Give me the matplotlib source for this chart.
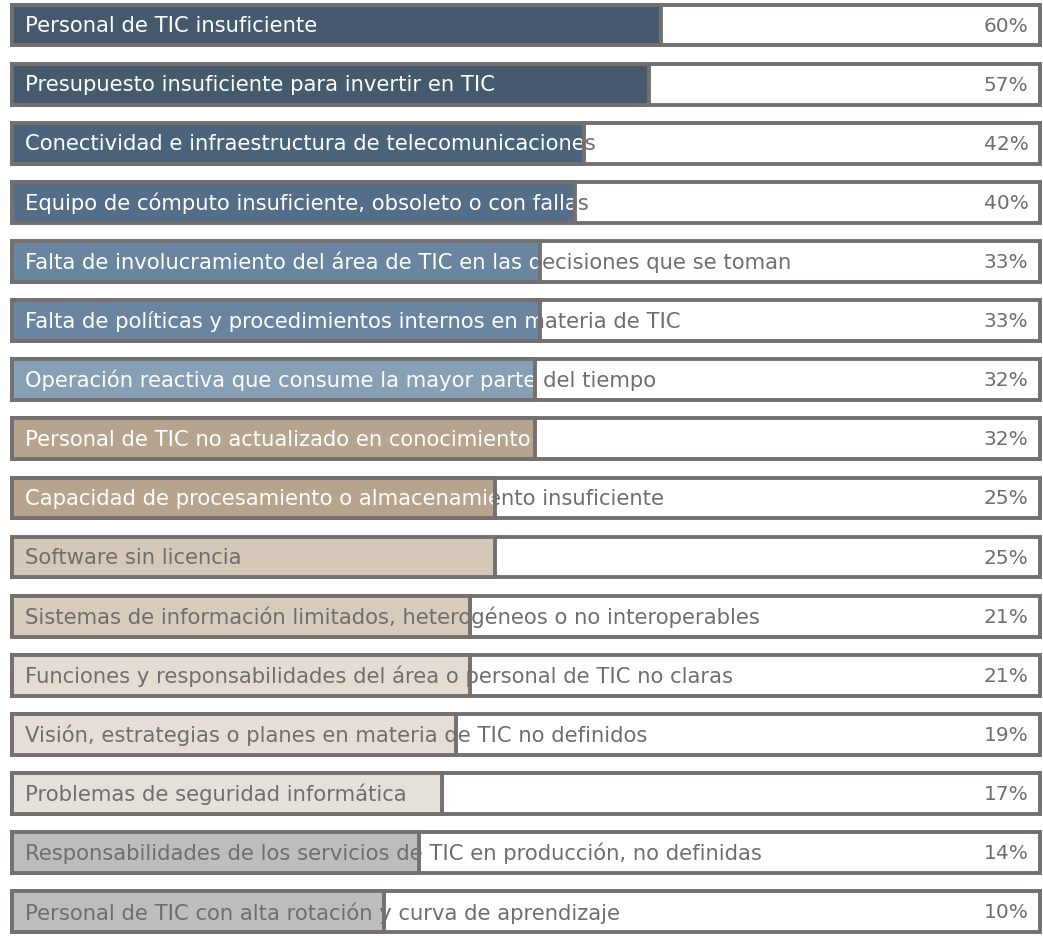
import matplotlib
matplotlib.use("Agg")
import matplotlib.pyplot as plt
import numpy as np

# %% DATA
labels = [
    "Personal de TIC insuficiente",
    "Presupuesto insuficiente para invertir en TIC",
    "Conectividad e infraestructura de telecomunicaciones",
    "Equipo de cómputo insuficiente, obsoleto o con fallas",
    "Falta de involucramiento del área de TIC en las decisiones que se toman",
    "Falta de políticas y procedimientos internos en materia de TIC",
    "Operación reactiva que consume la mayor parte del tiempo",
    "Personal de TIC no actualizado en conocimiento",
    "Capacidad de procesamiento o almacenamiento insuficiente",
    "Software sin licencia",
    "Sistemas de información limitados, heterogéneos o no interoperables",
    "Funciones y responsabilidades del área o personal de TIC no claras",
    "Visión, estrategias o planes en materia de TIC no definidos",
    "Problemas de seguridad informática",
    "Responsabilidades de los servicios de TIC en producción, no definidas",
    "Personal de TIC con alta rotación y curva de aprendizaje",
]
values = [60, 57, 42, 40, 33, 33, 32, 32, 25, 25, 21, 21, 19, 17, 14, 10]
bar_colors = [
    "#465a6e", "#465a6e", "#4c637c", "#546d88", "#6a859f", "#6a859f",
    "#87a0b6", "#b6a48f", "#b6a48f", "#d5c8b8", "#d7cbbc", "#e4dcd3",
    "#e6ded6", "#e6e0da", "#bdbdbd", "#bdbdbd",
]
# label text inside the bar: white on the darker bars, grey on the light ones
inner_text = ["white"] * 9 + ["#6e6e6e"] * 7

# %% STYLE
edge = "#747070"
grey_text = "#6e6e6e"
plt.rcParams["font.family"] = ["DejaVu Sans"]


# signed square-root scale, the bars grow roughly with sqrt(value)
def fwd(x):
    x = np.asarray(x, dtype=float)
    return np.sign(x) * np.sqrt(np.abs(x))


def inv(s):
    s = np.asarray(s, dtype=float)
    return np.sign(s) * s ** 2


fig = plt.figure(figsize=(10.43, 9.37), dpi=100)
ax = fig.add_axes([0, 0, 1, 1])
ax.set_xscale("function", functions=(fwd, inv))
ax.set_xlim(inv(-3.20), inv(14.08))
n = len(values)
ax.set_ylim(-0.41, n - 1 + 0.44)  # not inverted, first row on top
ax.axis("off")

track_left = inv(-3.0)
track_right = inv(14.03)
h = 0.69
y = n - 1 - np.arange(n)
widths = np.array(values) - track_left

# background tracks
ax.barh(y, track_right - track_left, left=track_left, height=h,
        color="white", edgecolor=edge, linewidth=2.8, zorder=1)

# grey label under the bars (shows where the label runs past the bar)
for i, lab in enumerate(labels):
    ax.text(0.024, y[i], lab, transform=ax.get_yaxis_transform(), ha="left",
            va="center", fontsize=15.2, color=grey_text, zorder=1.5)

bars = ax.barh(y, widths, left=track_left, height=h,
               color=bar_colors, edgecolor="none", zorder=2)

# label part over the bar, clipped to the bar
for i, (lab, bar) in enumerate(zip(labels, bars)):
    t = ax.text(0.024, y[i], lab, transform=ax.get_yaxis_transform(), ha="left",
                va="center", fontsize=15.2, color=inner_text[i], zorder=3,
                clip_on=True)
    t.set_clip_path(bar)

# bar outlines on top of the text
ax.barh(y, widths, left=track_left, height=h, fill=False,
        edgecolor=edge, linewidth=2.8, zorder=4)

# percentages
for i, v in enumerate(values):
    ax.text(0.986, y[i], f"{v}%", transform=ax.get_yaxis_transform(), ha="right",
            va="center", fontsize=14.5, color=grey_text, zorder=5)

fig.savefig("out.png", dpi=100, facecolor="white")
